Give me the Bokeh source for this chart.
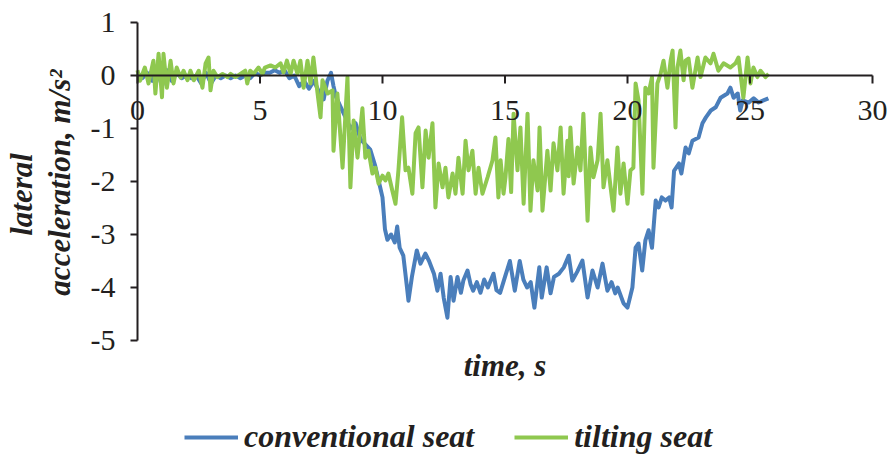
import math
from bokeh.plotting import figure
from bokeh.models import Range1d, Legend, LegendItem, ColumnDataSource
from bokeh.core.properties import value
from bokeh.embed import file_html
from bokeh.resources import INLINE

# ---- data ----
conv_t = [0.0, 0.2, 0.4, 0.6, 0.8, 1.0, 1.2, 1.4, 1.6, 1.8, 2.0, 2.2, 2.4, 2.6, 2.8, 3.0, 3.2, 3.4,
          3.6, 3.8, 4.0, 4.2, 4.4, 4.6, 4.8, 5.0, 5.2, 5.4, 5.6, 5.8, 6.0, 6.2, 6.4, 6.6, 6.8, 7.0,
          7.2, 7.4, 7.6, 7.75, 7.9, 8.0, 8.1, 8.3, 8.5, 8.7, 8.9, 9.1, 9.3, 9.5, 9.7, 9.9, 10.0,
          10.1, 10.2, 10.35, 10.5, 10.6, 10.7, 10.85, 11.0, 11.06, 11.2, 11.4, 11.55, 11.75, 11.9,
          12.1, 12.24, 12.37, 12.5, 12.65, 12.78, 12.9, 13.06, 13.2, 13.3, 13.47, 13.6, 13.7, 13.85,
          14.0, 14.15, 14.3, 14.53, 14.65, 14.8, 15.0, 15.2, 15.4, 15.6, 15.75, 15.9, 16.05, 16.2,
          16.4, 16.5, 16.7, 16.86, 17.0, 17.2, 17.4, 17.6, 17.75, 17.95, 18.16, 18.37, 18.57, 18.78,
          18.98, 19.18, 19.35, 19.5, 19.6, 19.84, 20.0, 20.2, 20.33, 20.45, 20.6, 20.73, 20.86,
          21.0, 21.15, 21.27, 21.4, 21.55, 21.7, 21.8, 21.9, 22.1, 22.2, 22.37, 22.5, 22.65, 22.9,
          23.06, 23.2, 23.4, 23.6, 23.8, 24.08, 24.2, 24.33, 24.5, 24.6, 24.7, 24.95, 25.15, 25.35,
          25.55, 25.75]
conv_a = [0.05, -0.05, 0.05, -0.1, 0.1, -0.2, 0.1, -0.1, 0.05, -0.05, 0.0, -0.05, 0.0, -0.15, 0.05,
          -0.15, 0.0, -0.05, 0.0, -0.05, 0.0, -0.05, 0.0, -0.05, 0.05, 0.0, 0.05, 0.05, 0.1, 0.05,
          0.1, -0.05, 0.0, -0.2, -0.1, -0.25, -0.1, -0.3, -0.45, -0.1, 0.05, -0.2, -0.4, -0.6,
          -0.8, -1.0, -0.9, -1.2, -1.3, -1.4, -1.7, -2.1, -2.3, -2.9, -3.1, -3.0, -3.15, -2.85,
          -3.25, -3.4, -4.0, -4.25, -3.8, -3.3, -3.55, -3.36, -3.5, -3.74, -4.06, -3.74, -4.2,
          -4.57, -3.8, -4.25, -3.8, -4.1, -3.87, -3.68, -3.95, -4.06, -3.9, -4.1, -3.85, -4.0,
          -3.74, -4.05, -4.1, -3.8, -3.5, -4.06, -3.5, -3.85, -4.0, -3.9, -4.38, -3.62, -4.19,
          -3.62, -4.11, -3.8, -3.74, -3.62, -3.4, -3.87, -3.7, -3.49, -4.19, -3.68, -4.0, -3.55,
          -4.06, -3.9, -4.11, -4.0, -4.3, -4.38, -4.0, -3.25, -3.17, -3.68, -3.11, -2.92, -3.25,
          -2.36, -2.49, -2.3, -2.36, -2.3, -2.49, -1.8, -1.66, -1.85, -1.36, -1.47, -1.23, -1.17,
          -0.9, -0.79, -0.66, -0.6, -0.42, -0.34, -0.23, -0.42, -0.34, -0.66, -0.47, -0.51, -0.43,
          -0.51, -0.47, -0.43]

tilt_t = [0.0, 0.1, 0.3, 0.45, 0.65, 0.73, 0.86, 1.0, 1.06, 1.2, 1.35, 1.47, 1.6, 1.76, 1.88, 2.04,
          2.16, 2.3, 2.5, 2.65, 2.78, 2.9, 2.98, 3.1, 3.26, 3.47, 3.67, 3.8, 4.0, 4.2, 4.4, 4.48,
          4.6, 4.73, 4.94, 5.1, 5.2, 5.43, 5.63, 5.84, 5.96, 6.1, 6.25, 6.37, 6.53, 6.65, 6.78,
          6.94, 7.06, 7.18, 7.35, 7.47, 7.55, 7.76, 7.96, 8.0, 8.16, 8.37, 8.57, 8.69, 8.82, 8.98,
          9.18, 9.3, 9.43, 9.59, 9.71, 9.84, 10.0, 10.12, 10.24, 10.4, 10.53, 10.65, 10.8, 10.94,
          11.06, 11.22, 11.35, 11.47, 11.63, 11.76, 11.88, 12.04, 12.16, 12.29, 12.45, 12.57,
          12.69, 12.86, 12.98, 13.1, 13.27, 13.39, 13.51, 13.67, 13.8, 13.92, 14.08, 14.29, 14.49,
          14.61, 14.73, 14.82, 14.94, 15.02, 15.14, 15.25, 15.35, 15.51, 15.63, 15.76, 15.92,
          16.04, 16.16, 16.33, 16.41, 16.53, 16.73, 16.86, 16.98, 17.14, 17.27, 17.39, 17.55,
          17.6, 17.67, 17.8, 17.96, 18.08, 18.2, 18.37, 18.49, 18.61, 18.78, 18.9, 19.02, 19.18,
          19.31, 19.43, 19.59, 19.71, 19.84, 20.0, 20.12, 20.24, 20.33, 20.45, 20.61, 20.73,
          20.86, 21.0, 21.06, 21.22, 21.35, 21.47, 21.63, 21.76, 21.84, 21.96, 22.04, 22.16,
          22.29, 22.37, 22.49, 22.65, 22.86, 22.98, 23.18, 23.39, 23.51, 23.71, 23.92, 24.2,
          24.41, 24.53, 24.73, 24.9, 25.02, 25.14, 25.3, 25.43, 25.63, 25.76]
tilt_a = [0.1, -0.1, 0.15, -0.15, 0.28, -0.34, 0.41, -0.41, 0.41, -0.23, 0.28, -0.15, 0.15, -0.04,
          0.09, -0.09, 0.09, -0.09, 0.09, -0.23, 0.23, 0.34, -0.28, 0.09, -0.03, 0.03, -0.03, 0.03,
          -0.03, 0.03, 0.09, -0.15, 0.09, 0.03, 0.15, 0.03, 0.15, 0.19, 0.15, 0.23, 0.06, 0.28,
          0.03, 0.28, 0.03, 0.28, -0.23, 0.28, -0.15, 0.34, -0.34, -0.79, -0.09, -0.34, -0.28,
          -1.42, -0.34, -1.74, -0.03, -2.11, -0.85, -1.55, -0.62, -1.55, -1.42, -1.85, -1.74,
          -2.04, -1.89, -1.98, -1.85, -2.17, -2.42, -1.79, -0.79, -1.79, -1.74, -2.23, -1.09,
          -0.98, -2.11, -1.04, -1.55, -0.9, -2.49, -1.66, -2.11, -1.74, -2.3, -1.85, -2.23, -1.55,
          -2.23, -1.23, -1.79, -1.42, -2.23, -1.74, -2.23, -1.92, -1.6, -1.17, -2.3, -1.6, -2.23,
          -1.92, -1.2, -2.2, -0.72, -1.79, -0.98, -2.42, -0.72, -2.55, -1.6, -2.17, -0.98, -2.55,
          -1.42, -2.17, -1.28, -1.79, -0.98, -2.23, -1.23, -1.9, -0.98, -2.04, -1.36, -1.79, -0.72,
          -2.74, -1.36, -1.92, -1.6, -0.72, -2.11, -1.6, -2.11, -2.55, -1.36, -2.23, -1.66, -2.42,
          -1.79, -1.74, -0.15, -0.47, -2.23, -0.23, -0.34, -0.03, -1.74, -0.15, 0.03, 0.28, -0.23,
          0.28, 0.47, -0.98, 0.15, 0.47, -0.09, 0.28, 0.32, -0.23, 0.34, -0.03, 0.34, 0.23, 0.41,
          0.09, 0.23, 0.15, 0.23, 0.34, -0.42, 0.34, -0.15, 0.15, -0.03, 0.09, -0.03, 0.03]

x_ticks = [0, 5, 10, 15, 20, 25, 30]
x_tick_labels = ["0", "5", "10", "15", "20", "25", "30"]
y_ticks = [-5, -4, -3, -2, -1, 0, 1]
y_tick_labels = ["-5", "-4", "-3", "-2", "-1", "0", "1"]
x_title = "time, s"
y_title = ["lateral", "acceleration, m/s\u00b2"]
series_names = ["conventional seat", "tilting seat"]
series_colors = ["#4A7EBB", "#8FC84F"]

# ---- layout / style ----
W, H = 893, 459
LEFT, TOP = 137, 22          # pixel position of the plot area's top-left corner
PX_X = 24.5                  # pixels per second
PX_Y = 53.0                  # pixels per m/s^2
SERIF = "Liberation Serif"
INK = "#231F20"
TICK_FS = "30px"
TITLE_FS = "31px"

x0, x1 = x_ticks[0], x_ticks[-1]
y0, y1 = y_ticks[0], y_ticks[-1]
xr = Range1d(x0 - LEFT / PX_X, x0 + (W - LEFT) / PX_X)
yr = Range1d(y1 - (H - TOP) / PX_Y, y1 + TOP / PX_Y)

p = figure(width=W, height=H, x_range=xr, y_range=yr, x_axis_type=None, y_axis_type=None,
           output_backend="svg", toolbar_location=None, min_border=0, title=None)
p.grid.visible = False
p.outline_line_color = None
p.background_fill_color = "white"

r1 = p.line(conv_t, conv_a, line_color=series_colors[0], line_width=4, line_join="round")
r2 = p.line(tilt_t, tilt_a, line_color=series_colors[1], line_width=4, line_join="round")

# axes drawn by hand: y axis at x = 0, x axis crossing at y = 0
p.segment(x0=[x0, x0], y0=[y0, 0], x1=[x0, x1], y1=[y1, 0], line_color=INK, line_width=2)

xs = ColumnDataSource(dict(x=x_ticks, y=[0] * len(x_ticks), lab=x_tick_labels))
p.segment(x0="x", y0="y", x1="x", y1=-8 / PX_Y, source=xs, line_color=INK, line_width=2)
p.text(x="x", y="y", text="lab", source=xs, text_font=value(SERIF),
       text_font_size=value(TICK_FS), text_color=INK, text_align="center",
       text_baseline="middle", y_offset=35)

ys = ColumnDataSource(dict(x=[x0] * len(y_ticks), y=y_ticks, lab=y_tick_labels))
p.segment(x0="x", y0="y", x1=x0 - 7 / PX_X, y1="y", source=ys, line_color=INK, line_width=2)
p.text(x="x", y="y", text="lab", source=ys, text_font=value(SERIF),
       text_font_size=value(TICK_FS), text_color=INK, text_align="right",
       text_baseline="middle", x_offset=-22)

# axis titles
ymid = (y0 + y1) / 2
p.text(x=[x0, x0], y=[ymid, ymid], text=y_title, angle=math.pi / 2,
       x_offset=[-116, -78], y_offset=[13, 1], text_font=value(SERIF),
       text_font_size=value(TITLE_FS), text_font_style="bold italic", text_color=INK,
       text_align="center", text_baseline="middle")
p.text(x=[(x0 + x1) / 2], y=[y0], text=[x_title], y_offset=25, text_font=value(SERIF),
       text_font_size=value(TITLE_FS), text_font_style="bold italic", text_color=INK,
       text_align="center", text_baseline="middle")

legend = Legend(items=[LegendItem(label=series_names[0], renderers=[r1]),
                       LegendItem(label=series_names[1], renderers=[r2])],
                orientation="horizontal", location=(184, 4),
                label_text_font=SERIF, label_text_font_size="32px",
                label_text_font_style="bold italic", label_text_color=INK,
                glyph_width=54, label_standoff=6, spacing=40, padding=2, margin=0,
                border_line_color=None, background_fill_alpha=0)
p.add_layout(legend)

open("out.html", "w").write(file_html(p, INLINE))
